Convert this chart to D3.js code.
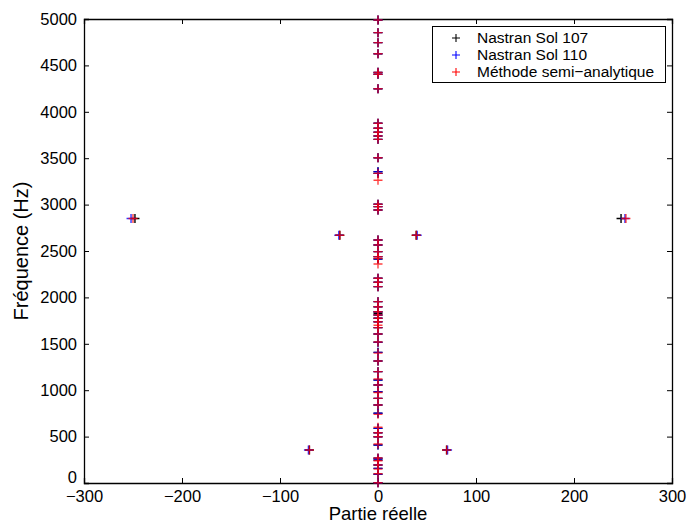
<!DOCTYPE html>
<html><head><meta charset="utf-8">
<script src="https://cdn.jsdelivr.net/npm/d3@7"></script>
<style>
body{margin:0;background:#fff;}
svg text{font-family:"Liberation Sans",Arial,Helvetica,sans-serif;}
</style></head>
<body><svg id="c" width="687" height="525"></svg>
<script>
// --- data ---
const seriesNames = ["Nastran Sol 107", "Nastran Sol 110", "Méthode semi\u2212analytique"];
const seriesColors = ["#000000", "#0000ff", "#ff0000"];
// real parts (x) and frequencies (y)
const sol107Re = [0,0,0,0,0,0,0,0,0,0,0,0,0,0,0,0,0,0,0,0,0,0,0,0,0,0,0,0,0,0,0,0,0,0,0,0,0,0,0,0,0,0,0,0,0,0,0,0,0,0,0,0,0,0,0, -248,248,-39,39,-70,70];
const sol107Hz = [3,94,158,194,248,266,409,499,542,589,751,841,912,984,1056,1110,1200,1315,1408,1516,1606,1674,1738,1775,1810,1846,1900,1954,2116,2163,2206,2414,2439,2493,2565,2619,2942,2978,3003,3337,3355,3505,3703,3739,3779,3822,3876,4404,4425,4626,4745,4853,4990,4249,1829, 2850,2850,2670,2670,356,356];
const sol110Re = [0,0,0,0,0,0,0,0,0,0,0,0,0,0,0,0,0,0,0,0,0,0,0,0,0,0,0,0,0,0,0,0,0,0,0,0,0,0,0,0,0,0,0,0,0,0,0,0,0,0,0,0,0,0, -252,252,-40,40,-71,71];
const sol110Hz = [3,94,158,194,248,266,409,499,542,589,751,841,912,984,1056,1110,1200,1315,1408,1516,1606,1674,1738,1775,1810,1846,1900,1954,2116,2163,2206,2414,2439,2493,2565,2619,2942,2978,3003,3337,3355,3505,3703,3739,3779,3822,3876,4404,4425,4626,4745,4853,4990,4249, 2850,2850,2670,2670,356,356];
const semiRe = [0,0,0,0,0,0,0,0,0,0,0,0,0,0,0,0,0,0,0,0,0,0,0,0,0,0,0,0,0,0,0,0,0,0,0,0,0,0,0,0,0,0,0,0,0,0,0,0,0,0,0,0,0,0,0,0, -250,253,-39,39,-70,70];
const semiHz = [3,100,150,194,240,270,420,499,542,600,740,841,912,975,1056,1120,1200,1315,1400,1520,1606,1674,1738,1775,1810,1846,1900,1954,2116,2163,2206,2360,2420,2439,2493,2565,2619,2942,2978,3003,3262,3337,3505,3703,3739,3779,3822,3876,4249,4404,4425,4626,4745,4853,4990,1700, 2850,2850,2670,2670,356,356];
const xTicks = [-300,-200,-100,0,100,200,300];
const yTicks = [0,500,1000,1500,2000,2500,3000,3500,4000,4500,5000];
const xLabel = "Partie réelle";
const yLabel = "Fréquence (Hz)";

// --- layout ---
const L = 84, R = 672, T = 19, B = 483;
const svg = d3.select("#c");
const x = d3.scaleLinear().domain([-300,300]).range([L,R]);
const y = d3.scaleLinear().domain([0,5000]).range([B,T]);

svg.append("rect").attr("width",687).attr("height",525).attr("fill","#fff");

const fs = 16.5;
// axes (MATLAB-style inward ticks)
const gx = svg.append("g").attr("transform",`translate(0,${B})`)
  .call(d3.axisBottom(x).tickValues(xTicks).tickSize(-5).tickPadding(7).tickFormat(d=>d<0?"\u2212"+Math.abs(d):String(d)));
const gxt = svg.append("g").attr("transform",`translate(0,${T})`)
  .call(d3.axisTop(x).tickValues(xTicks).tickSize(-5).tickFormat(""));
const gy = svg.append("g").attr("transform",`translate(${L},0)`)
  .call(d3.axisLeft(y).tickValues(yTicks).tickSize(-5).tickPadding(7).tickFormat(d=>String(d)));
const gyr = svg.append("g").attr("transform",`translate(${R},0)`)
  .call(d3.axisRight(y).tickValues(yTicks).tickSize(-5).tickFormat(""));
[gx,gxt,gy,gyr].forEach(g=>{
  g.select(".domain").attr("stroke","#000").attr("stroke-width",1.3);
  g.selectAll(".tick line").attr("stroke","#000").attr("stroke-width",1);
  g.selectAll("text").attr("font-size",fs).attr("fill","#000").attr("font-family","Liberation Sans, Arial, sans-serif");
});
gx.selectAll("text").attr("dy","0.71em");
gy.selectAll("text").filter(d=>d===0).attr("dy","-0.05em");

// axis labels
svg.append("text").attr("x",(L+R)/2).attr("y",520).attr("text-anchor","middle")
  .attr("font-size",18.5).text(xLabel);
svg.append("text").attr("transform",`translate(28,${(T+B)/2}) rotate(-90)`).attr("text-anchor","middle")
  .attr("font-size",20).text(yLabel);

// markers
const plus = (g, xs, ys, col, op) => {
  const s = 4.5;
  const pts = xs.map((v,i)=>[v, ys[i]]);
  const gp = g.append("g").attr("stroke",col).attr("stroke-width",1.4).attr("stroke-opacity",op);
  gp.selectAll("path").data(pts).join("path")
    .attr("d",d=>{const px=x(d[0]), py=y(d[1]); return `M${px-s},${py}H${px+s}M${px},${py-s}V${py+s}`;});
};
plus(svg, sol107Re, sol107Hz, seriesColors[0], 1);
plus(svg, sol110Re, sol110Hz, seriesColors[1], 0.8);
plus(svg, semiRe, semiHz, seriesColors[2], 0.75);

// legend
const lg = svg.append("g");
lg.append("rect").attr("x",432.5).attr("y",26.5).attr("width",233).attr("height",56)
  .attr("fill","#fff").attr("stroke","#000").attr("stroke-width",1);
const rows = [38,55,72];
seriesNames.forEach((n,i)=>{
  const s=4;
  lg.append("path").attr("d",`M${456-s},${rows[i]}H${456+s}M456,${rows[i]-s}V${rows[i]+s}`)
    .attr("stroke",seriesColors[i]).attr("stroke-width",1.1);
  lg.append("text").attr("x",477).attr("y",rows[i]).attr("dy","0.35em")
    .attr("font-size",15.5).attr("fill","#000").text(n);
});
</script></body></html>
